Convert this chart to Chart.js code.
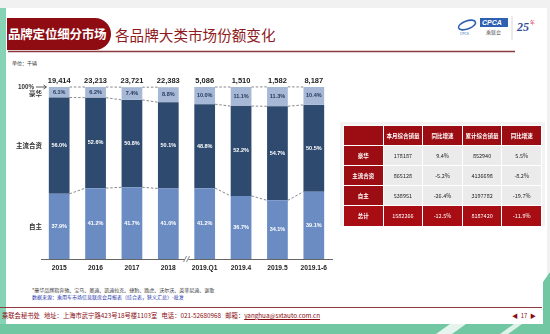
<!DOCTYPE html>
<html>
<head>
<meta charset="utf-8">
<script src="https://cdn.jsdelivr.net/npm/chart.js@4.4.0/dist/chart.umd.min.js"></script>
<style>
  html,body{margin:0;padding:0;}
  body{width:550px;height:334px;position:relative;overflow:hidden;background:#f1f1f1;
       font-family:"Noto Sans CJK SC","Liberation Sans",sans-serif;}
  .slide{position:absolute;left:0;top:8px;width:547px;height:326px;background:#fff;}
  .abs{position:absolute;white-space:nowrap;}
  #deco{position:absolute;left:0;top:0;}
  .badge{left:7px;top:18px;width:104px;height:32px;background:#8e0c12;border-radius:0 16px 16px 0;
         color:#fff;font-weight:bold;font-size:12.5px;line-height:32px;text-indent:1px;letter-spacing:-0.2px;}
  .title{left:115px;top:24px;font-size:14.6px;color:#8e1a1e;line-height:22px;}
  .unit{left:12px;top:59px;font-size:5px;color:#333;}
  #wrap{position:absolute;left:0;top:60px;width:345px;height:220px;}
  .tframe{left:340px;top:122px;width:205px;height:104px;background:#f3f3f3;}
  table{position:absolute;left:343px;top:125px;width:199px;border-collapse:collapse;table-layout:fixed;}
  td{border:1px solid #fff;text-align:center;font-size:5.5px;padding:0;height:19px;color:#222;
     font-family:"Noto Sans CJK SC","Liberation Sans",sans-serif;}
  td.h{background:#9c0c13;color:#fff;font-weight:bold;}
  td.c{background:#ebebeb;}
  tr.tot td{background:#a80d14;color:#fff;height:20px;}
  .note{left:32px;top:287px;font-size:5px;color:#333;line-height:6px;}
  .src{left:32px;top:294px;font-size:5px;color:#2233aa;line-height:6px;}
  .foot{left:2px;top:312px;font-size:6.3px;color:#8b0d12;line-height:8px;}
  .foot u{text-decoration:underline;}
  .page{left:512px;top:312px;font-size:6px;color:#8b0d12;line-height:8px;}
</style>
</head>
<body>
<div class="slide"></div>
<svg id="deco" width="550" height="334">
  <rect x="0" y="8" width="6" height="318" fill="#86d3b5"/>
  <line x1="8" y1="51.5" x2="515" y2="51.5" stroke="#8b3a3e" stroke-width="1.4"/>
  <line x1="0" y1="307.5" x2="542" y2="307.5" stroke="#8b3a3e" stroke-width="1.2"/>
  <polygon points="0,324 550,324 550,334 0,334" fill="#72c7a3"/>
  <polygon points="436,334 450,324 466,324 452,334" fill="#e6f4ee"/>
  <polygon points="500,334 514,324 522,324 508,334" fill="#dff1e9"/>
  <polygon points="543,282 550,272 550,334 543,334" fill="#72c7a3"/>
  <!-- logo -->
  <ellipse cx="467" cy="25" rx="9" ry="4" fill="none" stroke="#2f5fb0" stroke-width="1.6" transform="rotate(-20 467 25)"/>
  <rect x="480" y="18" width="28" height="9" fill="#2f5fb0"/>
  <line x1="512" y1="16" x2="512" y2="40" stroke="#ccc" stroke-width="0.8"/>
</svg>
<div class="abs badge">品牌定位细分市场</div>
<div class="abs title">各品牌大类市场份额变化</div>
<div class="abs" style="left:482px;top:18px;font-size:7px;font-weight:bold;font-style:italic;color:#fff;line-height:9px;font-family:'Liberation Sans';">CPCA</div>
<div class="abs" style="left:486px;top:28px;font-size:5px;color:#555;line-height:7px;">乘联会</div>
<div class="abs" style="left:460px;top:31px;font-size:3.5px;color:#2f5fb0;line-height:5px;">CPCA</div>
<div class="abs" style="left:517px;top:20px;font-size:12px;font-weight:bold;font-style:italic;color:#2f4f9a;line-height:14px;font-family:'Liberation Serif';">25</div>
<div class="abs" style="left:530px;top:19px;font-size:5px;color:#d02030;line-height:6px;">年</div>
<div class="abs unit">单位：千辆</div>
<div id="wrap"><canvas id="c"></canvas></div>

<div class="abs tframe"></div>
<table>
  <colgroup><col><col><col><col><col></colgroup>
  <tr><td class="h"></td><td class="h">本月综合销量</td><td class="h">同比增速</td><td class="h">累计综合销量</td><td class="h">同比增速</td></tr>
  <tr><td class="h">豪华</td><td class="c">178187</td><td class="c">9.4%</td><td class="c">852940</td><td class="c">5.5%</td></tr>
  <tr><td class="h">主流合资</td><td class="c">865128</td><td class="c">-5.2%</td><td class="c">4136698</td><td class="c">-8.2%</td></tr>
  <tr><td class="h">自主</td><td class="c">538951</td><td class="c">-26.4%</td><td class="c">3197782</td><td class="c">-19.7%</td></tr>
  <tr class="tot"><td style="font-weight:bold">总计</td><td>1582266</td><td>-12.5%</td><td>8187420</td><td>-11.9%</td></tr>
</table>

<div class="abs note">*豪华品牌指奔驰、宝马、奥迪、凯迪拉克、捷豹、路虎、沃尔沃、英菲尼迪、讴歌</div>
<div class="abs src">数据来源：乘用车市场信息联席会月报表（综合表，狭义汇总）-批发</div>
<div class="abs foot">乘联会秘书处&nbsp;&nbsp;&nbsp;地址：上海市武宁路423号18号楼1103室&nbsp;&nbsp;&nbsp;电话：021-52680968&nbsp;&nbsp;&nbsp;邮箱：<u>yanghua@sxtauto.com.cn</u></div>
<div class="abs page">◀&nbsp;&nbsp;17&nbsp;&nbsp;▶</div>

<script>
const categories = ['2015','2016','2017','2018','2019.Q1','2019.4','2019.5','2019.1-6'];
const totals     = [19414, 23213, 23721, 22383, 5086, 1510, 1582, 8187];
const ziZhu      = [37.9, 41.2, 41.7, 41.0, 41.2, 36.7, 34.1, 39.1];
const heZi       = [56.0, 52.6, 50.8, 50.1, 48.8, 52.2, 54.7, 50.5];
const haoHua     = [6.1, 6.2, 7.4, 8.8, 10.0, 11.1, 11.3, 10.4];
const seriesNames = ['自主','主流合资','豪华'];
const breakAfter = 3; // axis break between 2018 and 2019.Q1

const colors = ['#6b8cc3','#2e4a6f','#a6b8d6'];
const labelColors = ['#fff','#fff','#1f3559'];

// labels, totals, connectors, axis break
const overlay = {
  id:'overlay',
  afterDatasetsDraw(chart){
    const ctx = chart.ctx;
    const metas = [0,1,2].map(i=>chart.getDatasetMeta(i));
    const ys = chart.scales.y;
    const area = chart.chartArea;
    ctx.save();

    // dashed connectors
    ctx.setLineDash([2.5,1.8]);
    ctx.strokeStyle = '#6a6a6a';
    ctx.lineWidth = 0.8;
    for(let j=0;j<categories.length-1;j++){
      if(j===breakAfter) continue;
      for(let i=0;i<3;i++){
        const a = metas[i].data[j], b = metas[i].data[j+1];
        ctx.beginPath();
        ctx.moveTo(a.x+a.width/2, a.y);
        ctx.lineTo(b.x-b.width/2, b.y);
        ctx.stroke();
      }
    }
    ctx.setLineDash([]);

    // values inside segments
    ctx.textAlign = 'center';
    ctx.textBaseline = 'middle';
    ctx.font = 'bold 5.5px "Liberation Sans"';
    const series = [ziZhu, heZi, haoHua];
    series.forEach((vals,i)=>{
      ctx.fillStyle = labelColors[i];
      vals.forEach((v,j)=>{
        const el = metas[i].data[j];
        ctx.fillText(v.toFixed(1)+'%', el.x, (el.y+el.base)/2);
      });
    });

    // totals above bars
    ctx.fillStyle = '#222';
    ctx.font = 'bold 7.5px "Liberation Sans"';
    totals.forEach((t,j)=>{
      const el = metas[2].data[j];
      ctx.fillText(t.toLocaleString('en-US'), el.x, ys.getPixelForValue(100)-6.5);
    });

    // series names on the left, at the first bar's segments
    ctx.textAlign = 'right';
    ctx.font = 'bold 6.5px "Noto Sans CJK SC"';
    ctx.fillStyle = '#333';
    seriesNames.forEach((n,i)=>{
      const el = metas[i].data[0];
      ctx.fillText(n, 42, (el.y+el.base)/2 + (i===2 ? 1 : 0));
    });
    // 100% arrow
    const y100 = ys.getPixelForValue(100);
    ctx.font = 'bold 6.3px "Liberation Sans"';
    ctx.fillText('100%', 34, y100);
    ctx.strokeStyle = '#333'; ctx.lineWidth = 0.8;
    ctx.beginPath(); ctx.moveTo(36, y100); ctx.lineTo(46, y100); ctx.stroke();
    ctx.beginPath(); ctx.moveTo(43.5, y100-2); ctx.lineTo(46.5, y100); ctx.lineTo(43.5, y100+2); ctx.stroke();

    // axis break mark
    const bx = (metas[0].data[breakAfter].x + metas[0].data[breakAfter+1].x)/2;
    const by = area.bottom;
    ctx.fillStyle = '#fff';
    ctx.fillRect(bx-2, by-2, 4, 4);
    ctx.strokeStyle = '#555'; ctx.lineWidth = 0.7;
    [-1.5,1.5].forEach(d=>{
      ctx.beginPath(); ctx.moveTo(bx+d-1.5, by+3); ctx.lineTo(bx+d+1.5, by-3); ctx.stroke();
    });
    ctx.restore();
  }
};

new Chart(document.getElementById('c'), {
  type:'bar',
  data:{
    labels: categories,
    datasets:[
      { label: seriesNames[0], data: ziZhu,  backgroundColor: colors[0] },
      { label: seriesNames[1], data: heZi,   backgroundColor: colors[1] },
      { label: seriesNames[2], data: haoHua, backgroundColor: colors[2] }
    ]
  },
  options:{
    responsive:true,
    maintainAspectRatio:false,
    animation:false,
    categoryPercentage:1,
    barPercentage:0.57,
    layout:{ padding:{ left:41, right:13, top:27, bottom:0 } },
    scales:{
      x:{ stacked:true,
          grid:{ display:false, drawTicks:false },
          border:{ display:true, color:'#666', width:1 },
          ticks:{ color:'#222', font:{ family:'Liberation Sans', size:6.7, weight:'bold' }, padding:5, maxRotation:0, autoSkip:false },
          afterFit(s){ s.height = 21; } },
      y:{ stacked:true, display:false, min:0, max:100 }
    },
    plugins:{ legend:{ display:false }, tooltip:{ enabled:false } }
  },
  plugins:[overlay]
});
</script>
</body>
</html>
